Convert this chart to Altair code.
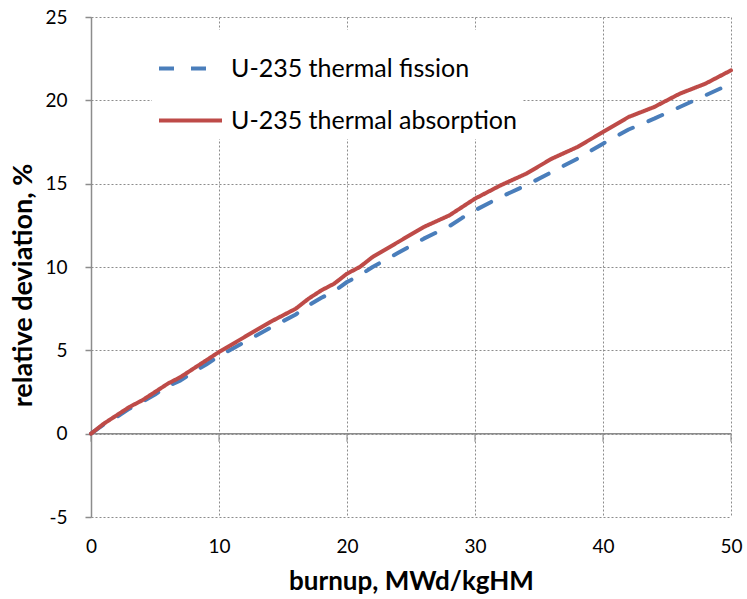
import altair as alt
import pandas as pd

burnup = [0, 1, 2, 3, 4, 5, 6, 7, 8, 9, 10, 12, 14, 16, 17, 18, 19, 20, 21, 22,
          24, 26, 28, 29, 30, 32, 34, 36, 38, 40, 42, 44, 46, 48, 50]
absorption = [0, 0.6, 1.1, 1.6, 2.0, 2.5, 3.0, 3.4, 3.9, 4.4, 4.9, 5.8, 6.7, 7.5,
              8.1, 8.6, 9.0, 9.6, 10.0, 10.6, 11.5, 12.4, 13.1, 13.6, 14.1, 14.9,
              15.6, 16.5, 17.2, 18.1, 19.0, 19.6, 20.4, 21.0, 21.8]
fission = [0, 0.55, 1.0, 1.5, 1.9, 2.35, 2.85, 3.2, 3.7, 4.15, 4.65, 5.5, 6.35,
           7.15, 7.7, 8.15, 8.55, 9.1, 9.5, 10.0, 10.85, 11.7, 12.45, 12.95, 13.4,
           14.2, 14.9, 15.7, 16.5, 17.4, 18.25, 18.9, 19.6, 20.3, 21.0]
series_names = ["U-235 thermal fission", "U-235 thermal absorption"]
series_colors = ["#4A7EBB", "#BE4B48"]
x_ticks = [0, 10, 20, 30, 40, 50]
y_ticks = [-5, 0, 5, 10, 15, 20, 25]

FONT = "Lato"
GRID = "#8c8c8c"

rows = []
for b, f in zip(burnup, fission):
    rows.append({"burnup": b, "dev": f, "series": series_names[0]})
for b, a in zip(burnup, absorption):
    rows.append({"burnup": b, "dev": a, "series": series_names[1]})
df = pd.DataFrame(rows)

xscale = alt.Scale(domain=[0, 50], nice=False)
yscale = alt.Scale(domain=[-5, 25], nice=False)

lines = alt.Chart(df).mark_line(strokeWidth=4, strokeCap="round", strokeJoin="round").encode(
    x=alt.X("burnup:Q", scale=xscale,
            axis=alt.Axis(values=x_ticks, title="burnup, MWd/kgHM", domain=False, ticks=False,
                          labelPadding=20, labelFont=FONT, labelFontSize=19, labelColor="black",
                          labelFlush=False, labelOverlap=False,
                          titleFont=FONT, titleFontSize=26, titleFontWeight="bold",
                          titleColor="black", titleBaseline="alphabetic", titleY=72,
                          grid=True, gridColor=GRID, gridDash=[2, 2], gridWidth=1)),
    y=alt.Y("dev:Q", scale=yscale,
            axis=alt.Axis(values=y_ticks, title="relative deviation, %", domain=True,
                          domainColor=GRID, domainWidth=1.5, tickColor=GRID,
                          tickSize=6, tickWidth=1.5, labelPadding=18,
                          labelFlush=False, labelOverlap=False,
                          labelExpr="datum.value < 0 ? '-' + abs(datum.value) : '' + datum.value",
                          labelFont=FONT, labelFontSize=19, labelColor="black",
                          titleFont=FONT, titleFontSize=27, titleFontWeight="bold",
                          titleColor="black", titleBaseline="alphabetic",
                          titleX=-60, titleY=268,
                          grid=True, gridColor=GRID, gridDash=[2, 2], gridWidth=1)),
    color=alt.Color("series:N", scale=alt.Scale(domain=series_names, range=series_colors),
                    legend=alt.Legend(title=None, orient="none", legendX=61, legendY=13,
                                      fillColor="white", padding=5,
                                      symbolType="stroke", symbolSize=3969,
                                      symbolStrokeWidth=4, rowPadding=5,
                                      labelFontSize=25, labelFont=FONT, labelLimit=500,
                                      labelColor="black", labelOffset=7)),
    strokeDash=alt.StrokeDash("series:N",
                              scale=alt.Scale(domain=series_names, range=[[15, 17], [1, 0]]),
                              legend=None),
    order=alt.Order("burnup:Q"),
)

zero_df = pd.DataFrame({"y": [0]})
zero_line = alt.Chart(zero_df).mark_rule(color=GRID, strokeWidth=1.5).encode(
    y=alt.Y("y:Q", scale=yscale)
)
tick_df = pd.DataFrame({"x": x_ticks, "y": [0] * len(x_ticks)})
zero_ticks = alt.Chart(tick_df).mark_tick(color=GRID, size=8, thickness=1.5,
                                          yOffset=4, orient="vertical").encode(
    x=alt.X("x:Q", scale=xscale),
    y=alt.Y("y:Q", scale=yscale),
)

chart = alt.layer(zero_line, zero_ticks, lines).properties(
    width=640, height=500,
    background="white",
    autosize=alt.AutoSizeParams(type="none"),
    padding={"left": 91, "top": 17, "right": 16, "bottom": 82},
).configure_view(stroke=None)

chart.save("out.html", embed_options={"renderer": "svg", "actions": False})
